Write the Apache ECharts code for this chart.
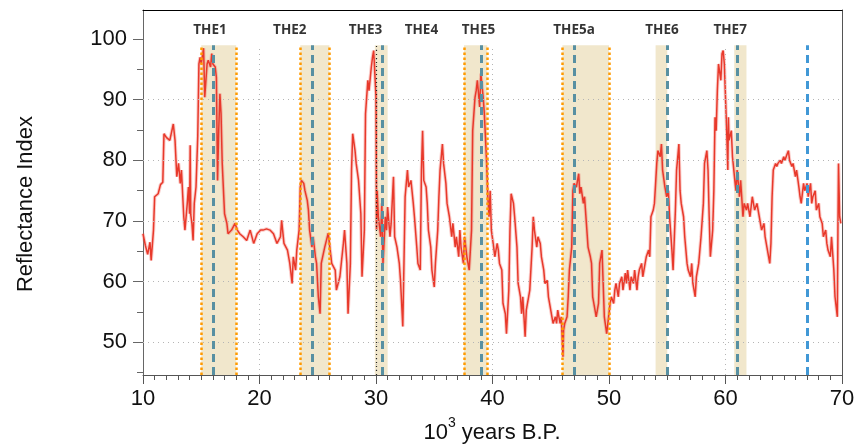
<!DOCTYPE html>
<html><head><meta charset="utf-8">
<script src="https://cdn.jsdelivr.net/npm/echarts@6/dist/echarts.min.js"></script>
<style>html,body{margin:0;padding:0;background:#fff}#c{width:860px;height:447px}</style>
</head><body><div id="c"></div>
<script>
// ---- data ----
const ages = [10.0,10.2,10.4,10.6,10.7,10.9,11.0,11.3,11.5,11.7,11.8,12.0,12.3,12.6,12.75,12.9,13.05,13.2,13.3,13.5,13.6,13.8,13.9,14.0,14.05,14.1,14.2,14.3,14.4,14.55,14.7,14.8,14.9,15.0,15.2,15.3,15.5,15.6,15.8,15.9,16.0,16.2,16.3,16.4,16.5,16.6,16.7,16.8,17.0,17.2,17.3,17.6,17.9,18.1,18.3,18.6,18.9,19.2,19.5,19.8,20.1,20.3,20.6,20.9,21.2,21.5,21.8,21.9,22.1,22.4,22.6,22.8,22.9,23.1,23.2,23.4,23.5,23.6,23.8,23.9,24.1,24.2,24.3,24.5,24.6,24.8,24.9,25.05,25.2,25.3,25.6,25.9,26.2,26.5,26.6,26.9,27.2,27.3,27.5,27.6,27.8,27.9,28.0,28.2,28.3,28.5,28.7,28.8,29.0,29.1,29.3,29.4,29.6,29.7,29.8,29.9,30.0,30.05,30.1,30.2,30.4,30.5,30.6,30.8,30.9,31.0,31.2,31.3,31.5,31.6,31.8,32.0,32.1,32.3,32.4,32.5,32.7,32.8,33.0,33.2,33.3,33.5,33.6,33.8,33.9,34.0,34.1,34.3,34.4,34.5,34.7,34.8,35.0,35.1,35.3,35.4,35.5,35.7,35.8,36.0,36.1,36.3,36.5,36.6,36.8,36.9,37.1,37.2,37.3,37.5,37.6,37.8,37.9,38.0,38.2,38.3,38.5,38.6,38.7,38.9,39.0,39.2,39.3,39.5,39.6,39.7,39.8,39.9,40.1,40.2,40.4,40.5,40.6,40.8,40.9,41.1,41.2,41.4,41.5,41.6,41.8,41.9,42.1,42.2,42.4,42.5,42.6,42.8,42.9,43.1,43.2,43.4,43.5,43.6,43.8,43.9,44.1,44.2,44.4,44.5,44.7,44.8,44.9,45.1,45.2,45.4,45.5,45.6,45.8,45.9,46.05,46.1,46.2,46.4,46.5,46.6,46.8,46.9,47.0,47.2,47.4,47.5,47.6,47.8,47.9,48.1,48.2,48.4,48.5,48.6,48.8,48.9,49.1,49.2,49.4,49.5,49.6,49.8,49.9,50.1,50.2,50.4,50.5,50.6,50.8,50.9,51.1,51.2,51.4,51.5,51.6,51.8,51.9,52.1,52.2,52.4,52.5,52.6,52.8,52.9,53.1,53.2,53.4,53.5,53.6,53.8,53.9,54.1,54.2,54.4,54.5,54.6,54.8,54.95,55.1,55.2,55.4,55.5,55.7,55.8,56.0,56.1,56.2,56.4,56.5,56.7,56.8,57.0,57.1,57.2,57.4,57.5,57.7,57.8,57.9,58.1,58.2,58.4,58.5,58.6,58.7,58.9,59.0,59.1,59.2,59.3,59.4,59.6,59.7,59.8,59.9,60.0,60.1,60.2,60.25,60.3,60.5,60.6,60.8,60.9,61.0,61.2,61.3,61.5,61.6,61.8,61.9,62.1,62.3,62.5,62.7,62.9,63.1,63.3,63.4,63.6,63.8,63.9,64.0,64.1,64.3,64.4,64.5,64.7,64.8,65.0,65.1,65.3,65.4,65.5,65.7,65.8,66.0,66.1,66.3,66.4,66.5,66.7,66.8,67.0,67.1,67.3,67.4,67.5,67.7,67.8,68.0,68.1,68.3,68.4,68.6,68.7,68.8,69.0,69.1,69.3,69.4,69.6,69.65,69.7,69.8,69.9,70.0];
const reflectance = [67.9,66.0,64.5,66.5,63.5,68.5,74,74.5,76,76.4,84.4,83.8,83.3,86,83.3,77.3,79.5,76.2,78.4,70.7,68.5,72.9,75.6,71.2,82.5,71,69.6,66.8,72.9,75.6,84,95.9,97,95.9,98.5,90.4,95.9,96.5,95.4,97.6,95.9,95.4,93.7,76.7,84.9,91,87.7,79.5,71.2,69.6,67.9,68.5,69.6,68.5,67.9,67.4,66.8,68.5,66.3,67.9,68.5,68.5,68.7,68.5,67.9,66.3,67.4,70.1,66.3,65.2,63,59.7,64.1,61.9,65.2,68.5,75.6,76.7,76.2,75,73.4,71.8,68.5,65.7,67.4,64.1,63,57.5,54.7,63,65.7,68.0,63,61.9,58.6,60.8,66.3,68.5,63,54.7,63,78.4,84.4,81.6,79.5,76.7,71.2,60.8,68.5,87.7,93.2,91.5,95.4,97,98.1,94.3,90.4,68.5,75,70.7,67.4,72.9,63,70.7,68.5,72.3,67.4,69.6,77.3,67.4,65.7,63,60.3,52.6,63,74,78.4,75.6,76.7,72.9,70.7,65.7,63,61.9,78.4,84.9,76.7,75.6,72.9,68.5,65.7,61.9,59.1,63,68.5,74,78.4,82.7,79.5,76.2,72.9,70.7,67.4,69.6,65.7,67.4,64.1,68.5,65.7,63,67.4,64.1,63,61.9,68.5,84.9,90.4,91.5,93.2,88.8,94.3,90.4,87.7,79.5,74,70.7,75,68.5,65.7,64.1,66.3,65.2,63,61.9,56.4,54.7,51.4,58.6,68.5,74.5,72.9,70.7,65.7,59.7,57.5,54.7,57.5,50.9,55.3,57.5,58.6,65.7,70.7,68.5,65.7,67.4,66.3,64.1,61.9,59.7,60.2,57.5,56.4,54.2,53.1,54.2,53.1,55.3,53.1,54.2,47.6,52,53.1,54.2,57.5,61.9,65.7,75,76.2,75.6,77.8,74.5,75.6,72.9,74,68.5,65.7,64.1,63,57.5,55.3,54.2,56.4,63,65.2,59.7,54.2,51.4,53.1,56.4,57.5,56.4,58.6,59.7,57.5,59.7,60.8,58.6,61.4,59.7,61.9,58.6,60.8,59.7,61.9,58.6,60.8,61.9,63,60.8,63,64.1,65.2,64.1,70.7,71.8,72.9,79.5,81.6,80.6,82.7,78.4,75.6,74,75,70.7,65.2,61.9,71.8,78.4,82.7,75,72.9,70.7,67.4,63,61.9,60.8,63,59.7,57.5,60.8,63,65.2,67.4,72.9,79.5,81.6,78.4,70.7,64.1,68.5,75,87.1,84.9,91.5,95.9,93.2,97.6,98.1,95.9,90.4,84.9,78.4,87.1,83.3,84.9,80.6,76.7,75,78.4,74,76.7,70.7,72.9,71.8,72.9,70.7,74,71.8,72.9,70.7,68.5,69.6,67.4,65.2,63,66.3,74,78.4,79.5,79,79.5,80,79.5,80.6,80,81.1,81.6,80,79,79.5,77.3,78.4,75.6,74,72.9,76.2,75,76.2,74,76.2,72.9,74,75,71.8,72.9,70.7,69.6,67.4,68.5,66.3,65.2,64.1,67.4,61.9,57.5,54.2,68.5,79.5,70.7,69.6];
const xTicks = [10, 20, 30, 40, 50, 60, 70];
const yMajor = [50, 60, 70, 80, 90, 100];
const yMinor = [45, 55, 65, 75, 85, 95];
const gridX = [20, 30, 40, 50, 60];
const gridY = [50, 60, 70, 80, 90];
const eventNames = ['THE1','THE2','THE3','THE4','THE5','THE5a','THE6','THE7'];
const eventLabelX = [15.75, 22.6, 29.1, 33.9, 38.8, 47.0, 54.55, 60.4];
const bandStart = [15.0, 23.5, 29.9, 37.55, 46.0, 54.0, 60.75];
const bandEnd   = [18.0, 26.0, 31.0, 39.55, 50.0, 55.0, 61.8];
const eventAges = [16.0, 24.5, 30.5, 39.0, 47.0, 55.0, 61.0];
const extraAge = [67.0];
const orangeEdges = [15.0, 18.0, 23.5, 26.0, 37.55, 39.55, 46.0, 50.0];
const blackEdges = [30.0];

const Y_MIN = 44.6, Y_MAX = 104.8, TOP = 99;
const font = "'Liberation Sans', Arial, Helvetica, sans-serif";

const vline = (x, style) => [{coord: [x, Y_MIN], lineStyle: style}, {coord: [x, TOP]}];
const gridLines = [];
gridY.forEach(v => gridLines.push([{coord: [10, v]}, {coord: [70, v]}]));
gridX.forEach(v => gridLines.push([{coord: [v, Y_MIN]}, {coord: [v, TOP]}]));

const markers = [];
orangeEdges.forEach(x => markers.push(vline(x, {color: '#ff9a00', width: 2.5, type: [2.5, 2.5]})));
blackEdges.forEach(x => markers.push(vline(x, {color: '#222', width: 1.2, type: [1, 3]})));
eventAges.forEach(x => markers.push(vline(x, {color: '#5890a2', width: 3, type: [8, 5]})));
extraAge.forEach(x => markers.push(vline(x, {color: '#4198d6', width: 3, type: [8, 5]})));

const seriesData = ages.map((a, i) => [a, reflectance[i]]);

const chart = echarts.init(document.getElementById('c'), null, {renderer: 'canvas'});
chart.setOption({
  animation: false,
  grid: {left: 143, right: 18, top: 10, bottom: 72},
  xAxis: [{
    type: 'value', min: 10, max: 70, interval: 10,
    axisLine: {lineStyle: {color: '#555', width: 1}},
    axisTick: {length: 9, lineStyle: {color: '#555'}},
    minorTick: {show: true, splitNumber: 10, length: 5, lineStyle: {color: '#555'}},
    axisLabel: {fontSize: 22, color: '#111', margin: 13, fontFamily: font,
      customValues: xTicks},
    splitLine: {show: false}
  }, {
    type: 'value', min: 10, max: 70, position: 'top',
    axisLine: {lineStyle: {color: '#000', width: 1.2}},
    axisTick: {show: false}, axisLabel: {show: false}, splitLine: {show: false}
  }],
  yAxis: [{
    type: 'value', min: Y_MIN, max: Y_MAX,
    axisLine: {show: true, lineStyle: {color: '#666'}},
    axisTick: {show: true, length: 10, lineStyle: {color: '#666'}, customValues: yMajor},
    axisLabel: {fontSize: 22, color: '#111', margin: 16, fontFamily: font, customValues: yMajor},
    splitLine: {show: false}
  }, {
    type: 'value', min: Y_MIN, max: Y_MAX, position: 'left',
    axisLine: {show: false},
    axisTick: {show: true, length: 6, lineStyle: {color: '#666'}, customValues: yMinor},
    axisLabel: {show: false}, splitLine: {show: false}
  }, {
    type: 'value', min: Y_MIN, max: Y_MAX, position: 'right',
    axisLine: {show: true, lineStyle: {color: '#555'}},
    axisTick: {show: false}, axisLabel: {show: false}, splitLine: {show: false}
  }],
  graphic: [{
    type: 'text', x: 26, y: 204, rotation: Math.PI / 2,
    style: {text: 'Reflectance Index', fontSize: 22, fontFamily: font, fill: '#111',
      textAlign: 'center', textVerticalAlign: 'middle'}
  }, {
    type: 'text', x: 492, y: 430,
    style: {
      text: '{n|10}{s|3}{n| years B.P.}',
      textAlign: 'center', textVerticalAlign: 'middle',
      rich: {
        n: {fontSize: 22, fontFamily: font, fill: '#111', color: '#111', verticalAlign: 'bottom', lineHeight: 28},
        s: {fontSize: 14, fontFamily: font, fill: '#111', color: '#111', verticalAlign: 'top', lineHeight: 28}
      }
    }
  }],
  series: [{
    name: 'bands', type: 'line', data: [], z: 1, silent: true,
    markArea: {silent: true, itemStyle: {color: '#f1e7cc'},
      data: bandStart.map((s, i) => [{coord: [s, Y_MIN]}, {coord: [bandEnd[i], TOP]}])},
    markLine: {silent: true, symbol: ['none', 'none'], label: {show: false},
      lineStyle: {color: '#b5b5b5', width: 1, type: [1, 4]}, data: gridLines}
  }, {
    name: 'Reflectance halo', type: 'line', z: 2, showSymbol: false, silent: true,
    data: seriesData,
    lineStyle: {color: 'rgba(240,110,100,0.35)', width: 3.5}
  }, {
    name: 'Reflectance', type: 'line', z: 2, showSymbol: false, silent: true,
    data: seriesData,
    lineStyle: {color: '#e8392b', width: 1.5}
  }, {
    name: 'markers', type: 'line', data: [], z: 3, silent: true,
    markLine: {silent: true, symbol: ['none', 'none'], label: {show: false}, data: markers}
  }, {
    name: 'labels', type: 'scatter', z: 4, symbolSize: 0, silent: true,
    data: eventNames.map((n, i) => ({name: n, value: [eventLabelX[i], 101.5]})),
    label: {show: true, position: 'inside', formatter: p => p.name,
      fontFamily: '"Open Sans", Lato, sans-serif', fontWeight: 'bold', fontSize: 13.5, color: '#000'}
  }]
});
</script></body></html>
